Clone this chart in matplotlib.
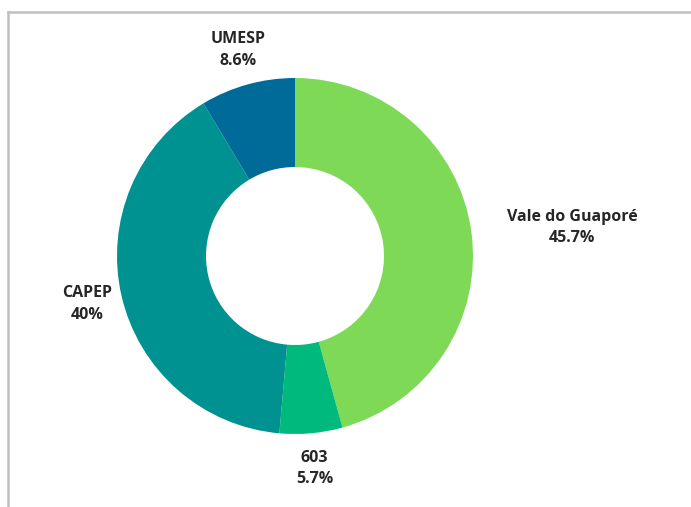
import numpy as np
import matplotlib.pyplot as plt
from matplotlib.lines import Line2D

labels = ['Vale do Guaporé', '603', 'CAPEP', 'UMESP']
values = [45.7, 5.7, 40.0, 8.6]
pct_labels = ['45.7%', '5.7%', '40%', '8.6%']
colors = ['#7ED957', '#00B97C', '#009191', '#006A99']

plt.rcParams['font.family'] = ['Open Sans', 'DejaVu Sans']

fig = plt.figure(figsize=(6.91, 5.07), dpi=100)
fig.patch.set_facecolor('white')

# pie area, 178 px per unit radius
W, H = 691, 507
ax = fig.add_axes([28 / W, -16 / H, 534 / W, 534 / H])
wedges, _ = ax.pie(values, colors=colors, startangle=90, counterclock=False,
                   radius=1.0, wedgeprops=dict(width=0.5, linewidth=0))
ax.set_xlim(-1.5, 1.5)
ax.set_ylim(-1.5, 1.5)
ax.set_aspect('equal')
ax.axis('off')

# labels around the ring
for w, name, pct in zip(wedges, labels, pct_labels):
    theta = np.deg2rad((w.theta1 + w.theta2) / 2)
    x, y = 1.2 * np.cos(theta), 1.2 * np.sin(theta)
    ha = 'center'
    if name == 'Vale do Guaporé':
        ha = 'left'
    ax.text(x, y, name + '\n' + pct, ha=ha, va='center', fontsize=11.5,
            fontweight='bold', color='#262626', linespacing=1.45,
            multialignment='center')

# frame lines of the panel
fig.add_artist(Line2D([8 / W, 8 / W], [0, 1 - 12 / H], color='#C0C0C0', lw=1.8,
                      transform=fig.transFigure))
fig.add_artist(Line2D([8 / W, 1], [1 - 12 / H, 1 - 12 / H], color='#C0C0C0', lw=1.8,
                      transform=fig.transFigure))

fig.savefig('out.png', dpi=100)
